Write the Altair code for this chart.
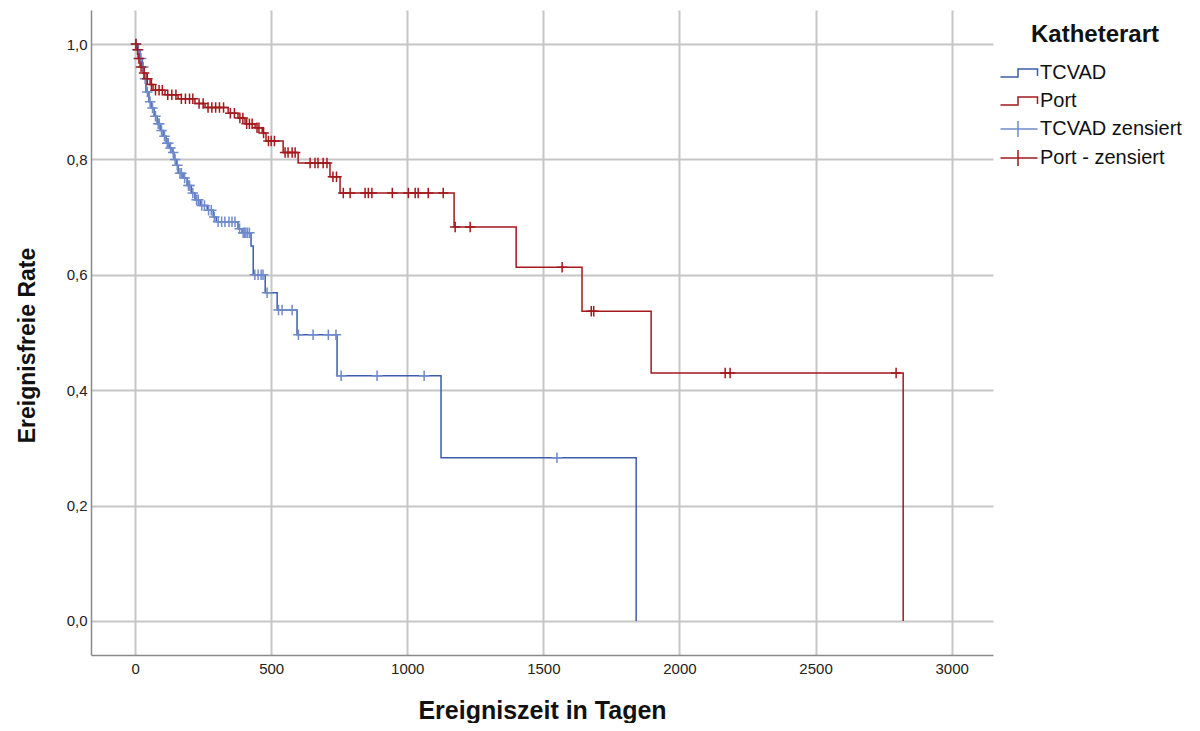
import altair as alt
import pandas as pd

# Kaplan-Meier step curves (time in days, event-free rate after the step)
tcvad_t = [0, 7, 18, 26, 33, 40, 51, 59, 70, 81, 92, 103, 114, 125, 136, 143, 151, 158, 176, 191,
           206, 220, 239, 265, 287, 298, 378, 393, 426, 434, 478, 522, 595, 742, 1124, 1841]
tcvad_s = [1.0, 0.99, 0.975, 0.96, 0.94, 0.917, 0.9, 0.889, 0.875, 0.862, 0.85, 0.84, 0.828, 0.82,
           0.812, 0.80, 0.79, 0.776, 0.768, 0.755, 0.742, 0.73, 0.72, 0.712, 0.70, 0.692, 0.68,
           0.673, 0.65, 0.60, 0.569, 0.539, 0.496, 0.425, 0.283, 0.0]

port_t = [0, 7, 11, 18, 29, 40, 55, 66, 110, 158, 220, 257, 342, 378, 404, 441, 467, 481, 544,
          599, 716, 753, 1172, 1400, 1642, 1896, 2822]
port_s = [1.0, 0.99, 0.975, 0.96, 0.95, 0.94, 0.93, 0.92, 0.912, 0.905, 0.897, 0.89, 0.88, 0.872,
          0.862, 0.855, 0.846, 0.832, 0.812, 0.794, 0.77, 0.742, 0.683, 0.613, 0.537, 0.43, 0.0]

# censored observations
tcvad_cens_t = [4, 12, 22, 30, 37, 45, 55, 64, 75, 85, 89, 97, 108, 118, 122, 130, 140, 147, 155,
                165, 170, 182, 196, 200, 212, 226, 232, 245, 255, 270, 280, 291, 305, 318, 330,
                345, 356, 367, 384, 397, 402, 407, 413, 420, 440, 452, 463, 470, 485, 527, 540,
                577, 600, 654, 710, 738, 757, 889, 1062, 1550]
tcvad_cens_s = [1.0, 0.99, 0.975, 0.96, 0.94, 0.917, 0.9, 0.889, 0.875, 0.862, 0.862, 0.85, 0.84,
                0.828, 0.828, 0.82, 0.812, 0.80, 0.79, 0.776, 0.776, 0.768, 0.755, 0.755, 0.742,
                0.73, 0.73, 0.72, 0.72, 0.712, 0.712, 0.70, 0.692, 0.692, 0.692, 0.692, 0.692,
                0.692, 0.68, 0.673, 0.673, 0.673, 0.673, 0.673, 0.60, 0.60, 0.60, 0.60, 0.569,
                0.539, 0.539, 0.539, 0.496, 0.496, 0.496, 0.496, 0.425, 0.425, 0.425, 0.283]

port_cens_t = [3, 9, 14, 22, 33, 45, 60, 75, 88, 100, 120, 135, 150, 170, 185, 200, 212, 235, 250,
               268, 282, 296, 310, 325, 350, 365, 385, 396, 410, 420, 430, 448, 455, 472, 490, 500,
               512, 551, 562, 577, 588, 643, 661, 672, 691, 705, 727, 740, 765, 790, 845, 857,
               870, 945, 1004, 1029, 1040, 1077, 1132, 1176, 1231, 1569, 1676, 1685, 2168, 2186,
               2796]
port_cens_s = [1.0, 0.99, 0.975, 0.96, 0.95, 0.94, 0.93, 0.92, 0.92, 0.92, 0.912, 0.912, 0.912,
               0.905, 0.905, 0.905, 0.905, 0.897, 0.897, 0.89, 0.89, 0.89, 0.89, 0.89, 0.88, 0.88,
               0.872, 0.872, 0.862, 0.862, 0.862, 0.855, 0.855, 0.846, 0.832, 0.832, 0.832, 0.812,
               0.812, 0.812, 0.812, 0.794, 0.794, 0.794, 0.794, 0.794, 0.77, 0.77, 0.742, 0.742,
               0.742, 0.742, 0.742, 0.742, 0.742, 0.742, 0.742, 0.742, 0.742, 0.683, 0.683, 0.613,
               0.537, 0.537, 0.43, 0.43, 0.43]

categories = ["TCVAD", "Port", "TCVAD zensiert", "Port - zensiert"]
colors = ["#3d5dab", "#a3191c", "#6f8bcb", "#a3191c"]
x_ticks = [0, 500, 1000, 1500, 2000, 2500, 3000]
y_ticks = [0.0, 0.2, 0.4, 0.6, 0.8, 1.0]

STEP = "M-1.85,0.4H-0.1V-0.4H1.85V0.3"
CROSS_LEG = "M-1.85,0H1.85M-0.1,-0.8V0.8"
CROSS = "M-1,0H1M0,-1V1"

lines = pd.concat([
    pd.DataFrame({"t": tcvad_t, "s": tcvad_s, "k": "TCVAD"}),
    pd.DataFrame({"t": port_t, "s": port_s, "k": "Port"}),
])
cens = pd.concat([
    pd.DataFrame({"t": tcvad_cens_t, "s": tcvad_cens_s, "k": "TCVAD zensiert"}),
    pd.DataFrame({"t": port_cens_t, "s": port_cens_s, "k": "Port - zensiert"}),
])
leg = pd.DataFrame({"t": [-1000] * 4, "s": [0.5] * 4, "k": categories})

xs = alt.Scale(domain=[-162, 3152], nice=False, zero=False)
ys = alt.Scale(domain=[-0.059, 1.059], nice=False, zero=False)
cs = alt.Scale(domain=categories, range=colors)
legend = alt.Legend(title="Katheterart", orient="none", legendX=917, legendY=13,
                    titleAnchor="middle", titleFontSize=24, titleFontWeight="bold",
                    titleFont="Liberation Sans", titleColor="#111", titlePadding=15,
                    labelFontSize=20, labelFont="Liberation Sans", labelColor="#111",
                    labelOffset=10, symbolSize=400, rowPadding=7, symbolStrokeWidth=1.5,
                    padding=0)

xax = alt.Axis(values=x_ticks, title="Ereigniszeit in Tagen", grid=True, ticks=False,
               labelFontSize=15, labelPadding=6, titleFontSize=25, titlePadding=22,
               format="d")
yax = alt.Axis(values=y_ticks, title="Ereignisfreie Rate", grid=True, ticks=False,
               labelFontSize=15, labelPadding=4, titleFontSize=23, titlePadding=27,
               titleY=335,
               labelExpr="replace(format(datum.value, '.1f'), '.', ',')")

line_layer = alt.Chart(lines).mark_line(interpolate="step-after", strokeWidth=1.5, clip=True).encode(
    x=alt.X("t:Q", scale=xs, axis=xax),
    y=alt.Y("s:Q", scale=ys, axis=yax),
    color=alt.Color("k:N", scale=cs, legend=legend),
    detail="k:N",
)
cens_layer = alt.Chart(cens).mark_point(shape=CROSS, filled=False, size=110, strokeWidth=1.5,
                                         opacity=1, clip=True).encode(
    x="t:Q", y="s:Q",
    color=alt.Color("k:N", scale=cs, legend=legend),
)
leg_layer = alt.Chart(leg).mark_point(filled=False, strokeWidth=1.5, opacity=1, clip=True).encode(
    x="t:Q", y="s:Q",
    color=alt.Color("k:N", scale=cs, legend=legend),
    shape=alt.Shape("k:N", scale=alt.Scale(domain=categories, range=[STEP, STEP, CROSS_LEG, CROSS_LEG]),
                    legend=legend),
)

chart = alt.layer(leg_layer, line_layer, cens_layer).properties(
    width=902, height=645,
    autosize=alt.AutoSizeParams(type="none"),
    padding={"left": 83, "top": 2, "right": 199, "bottom": 68},
).configure_view(stroke=None).configure_axis(
    domainColor="#8a8a8a", domainWidth=1.5, gridColor="#c6c6c6", gridWidth=2,
    labelFont="Liberation Sans", titleFont="Liberation Sans", labelColor="#222",
    titleColor="#111", titleFontWeight="bold",
)

chart.save("out.html", embed_options={"renderer": "svg", "actions": False})
